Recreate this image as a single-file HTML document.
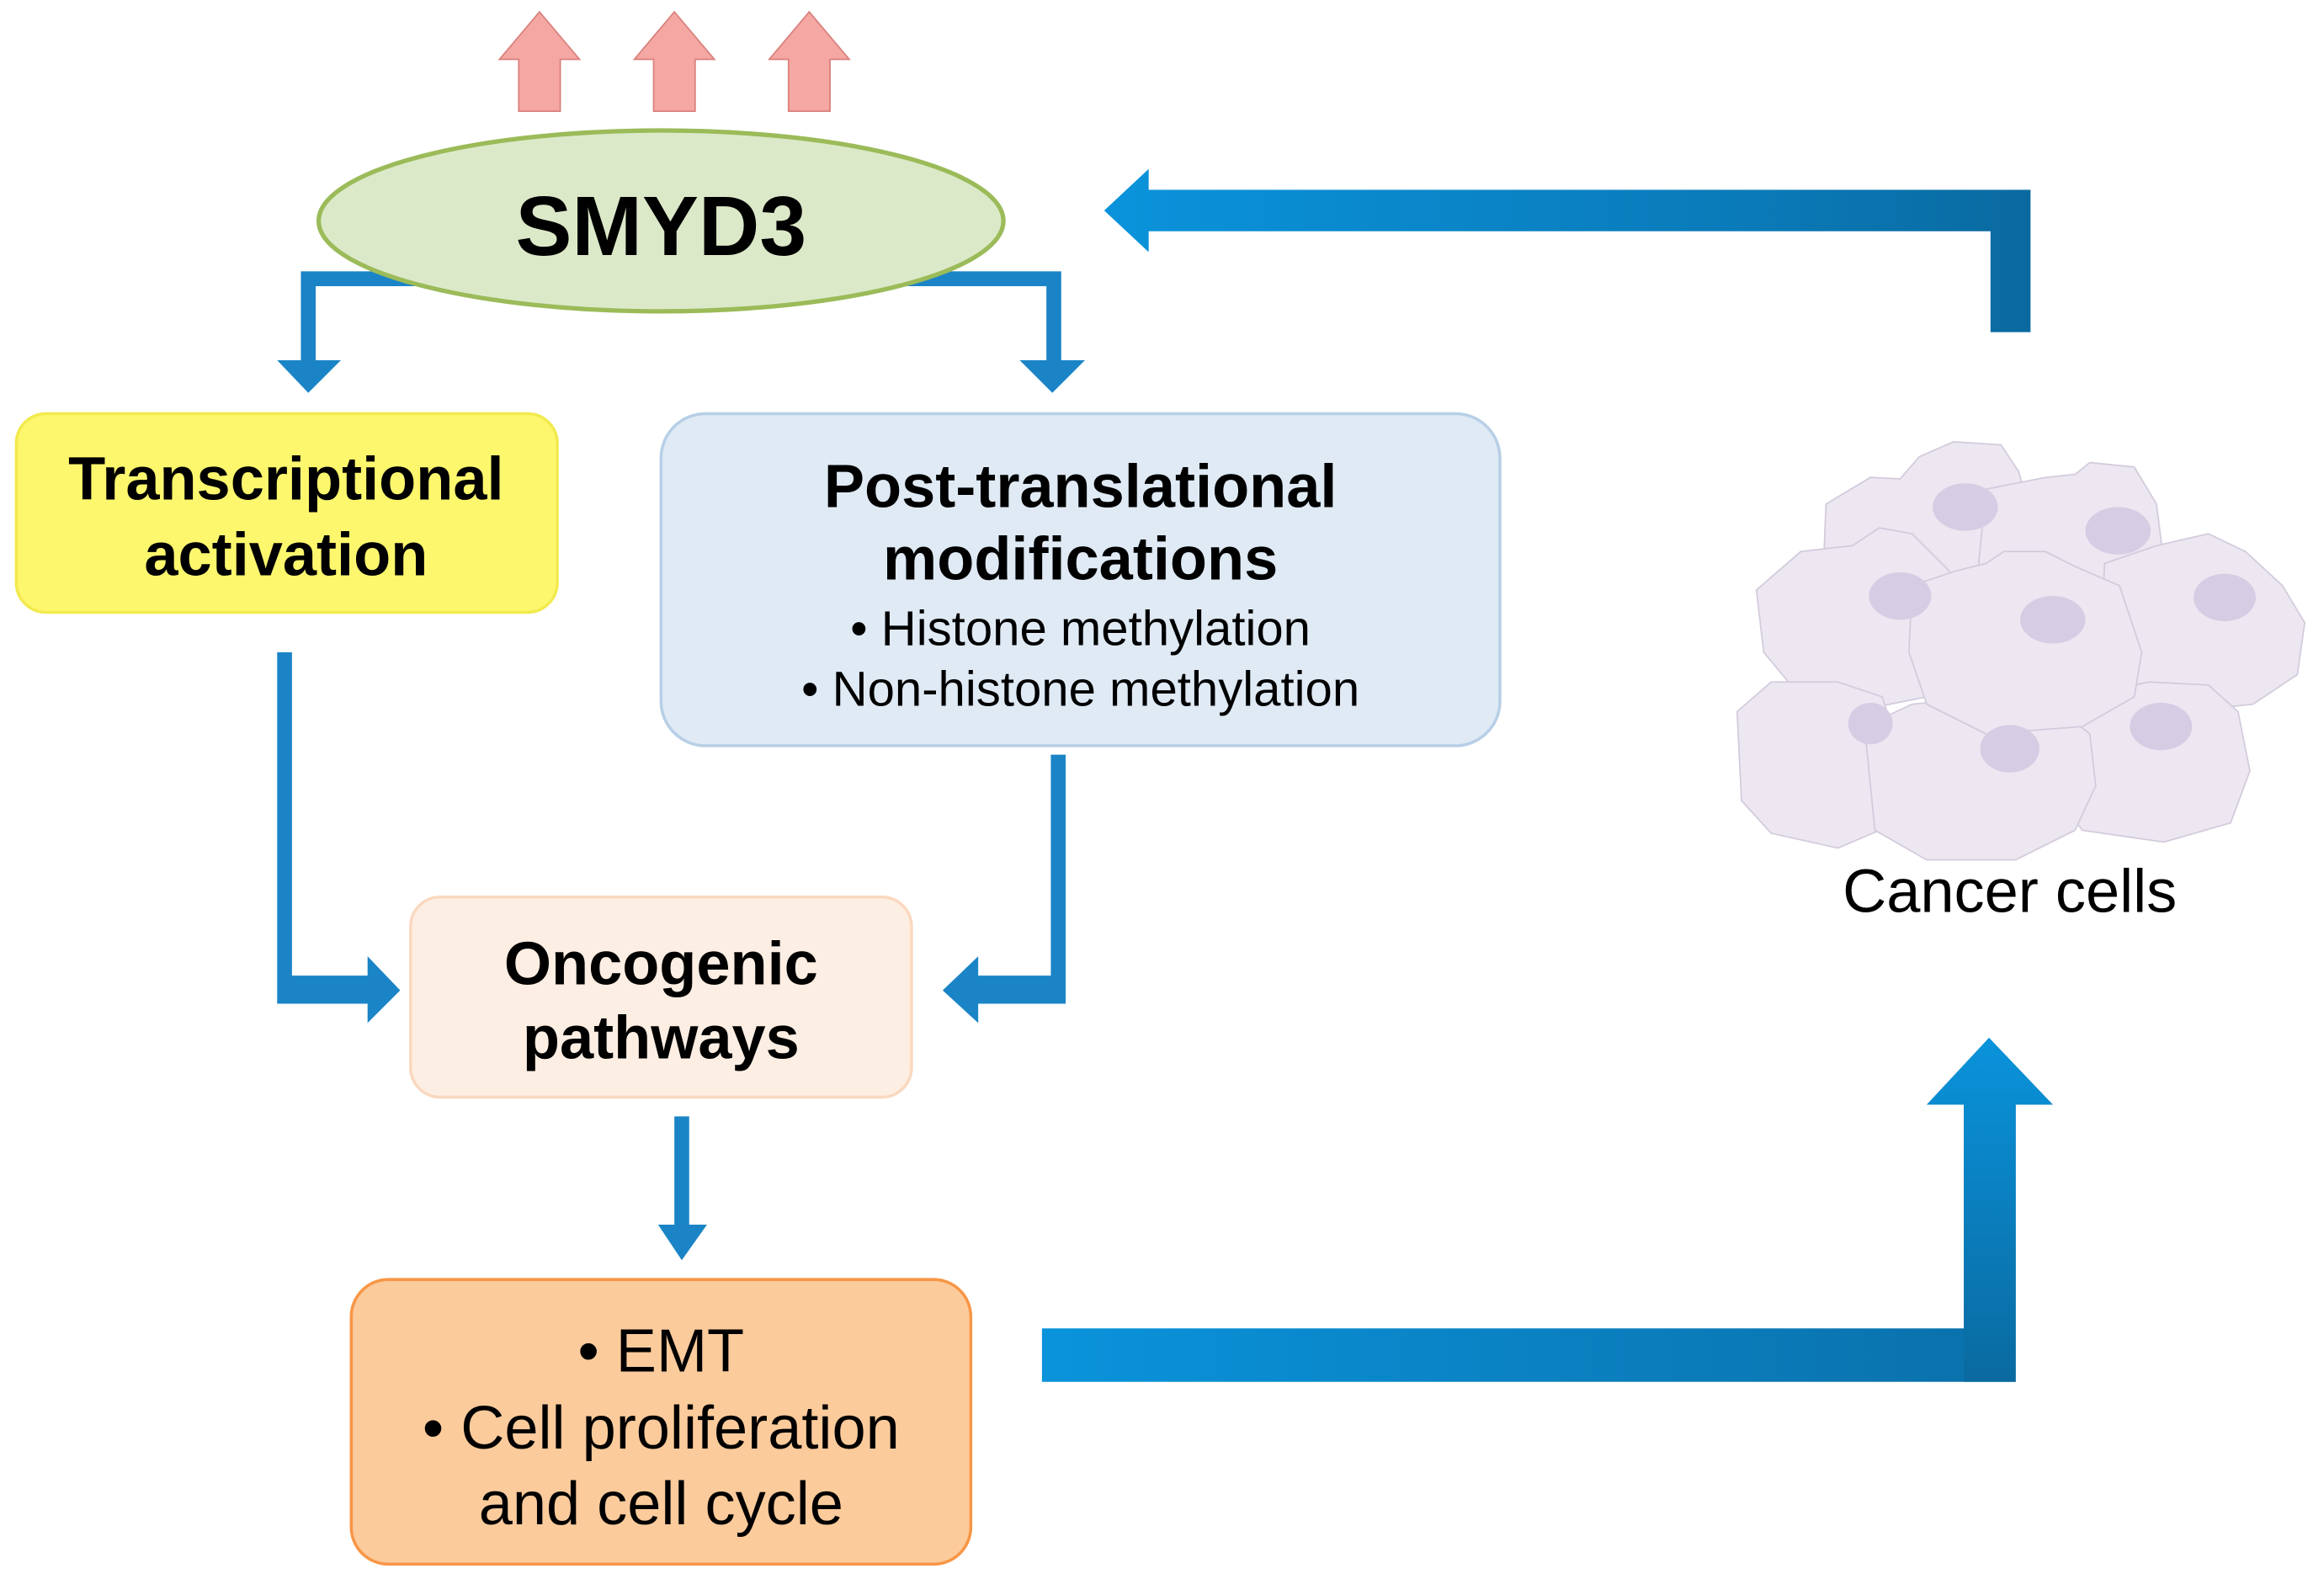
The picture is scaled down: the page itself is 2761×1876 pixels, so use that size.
<!DOCTYPE html>
<html><head><meta charset="utf-8"><style>
html,body{margin:0;padding:0;background:#fff}
svg{display:block}
text{font-family:"Liberation Sans",Arial,sans-serif}
</style></head><body>
<svg width="2761" height="1876" viewBox="0 0 1568 1065" preserveAspectRatio="none" xmlns="http://www.w3.org/2000/svg">
<defs>
<linearGradient id="gh" x1="0" y1="0" x2="1" y2="0"><stop offset="0" stop-color="#0a93db"/><stop offset="1" stop-color="#0a6fa8"/></linearGradient>
<linearGradient id="gh2" x1="0" y1="0" x2="1" y2="0"><stop offset="0" stop-color="#0a93db"/><stop offset="0.7" stop-color="#0a7ab8"/><stop offset="1" stop-color="#0a6aa0"/></linearGradient>
<linearGradient id="gv" x1="0" y1="1" x2="0" y2="0"><stop offset="0" stop-color="#0a6aa0"/><stop offset="1" stop-color="#0a93db"/></linearGradient>
</defs>
<rect width="1568" height="1065" fill="#fff"/>

<g fill="#f4a7a3" stroke="#d9807c" stroke-width="1">
<polygon points="350,75 350,40 337,40 364,8 391,40 378,40 378,75"/>
<polygon points="441,75 441,40 428,40 455,8 482,40 469,40 469,75"/>
<polygon points="532,75 532,40 519,40 546,8 573,40 560,40 560,75"/>
</g>

<g fill="#1a84c6">
<polygon points="203,183 300,183 300,193 213,193 213,243 230,243 208,265 187,243 203,243"/>
<polygon points="590,183 716,183 716,243 732,243 710,265 688,243 706,243 706,193 590,193"/>
</g>
<ellipse cx="446" cy="149" rx="231" ry="61" fill="#dce9c9" stroke="#9bbb59" stroke-width="3"/>
<text x="446" y="172" font-size="57" font-weight="bold" text-anchor="middle" fill="#000">SMYD3</text>

<polygon points="1370,128 1370,224 1343,224 1343,156 775,156 775,170 745,142 775,114 775,128" fill="url(#gh2)"/>

<rect x="11" y="279" width="365" height="134" rx="20" fill="#fdf76e" stroke="#f2ea4e" stroke-width="2"/>
<text x="193" y="337" font-size="41" font-weight="bold" text-anchor="middle">Transcriptional</text>
<text x="193" y="388" font-size="41" font-weight="bold" text-anchor="middle">activation</text>

<rect x="446" y="279" width="566" height="224" rx="30" fill="#dfeaf5" stroke="#b7cfe6" stroke-width="2"/>
<text x="729" y="342" font-size="41" font-weight="bold" text-anchor="middle">Post-translational</text>
<text x="729" y="391" font-size="41" font-weight="bold" text-anchor="middle">modifications</text>
<text x="729" y="435" font-size="33" text-anchor="middle">• Histone methylation</text>
<text x="729" y="476" font-size="33" text-anchor="middle">• Non-histone methylation</text>

<rect x="277" y="605" width="338" height="135" rx="20" fill="#fdeee3" stroke="#fad8bf" stroke-width="2"/>
<text x="446" y="664" font-size="41" font-weight="bold" text-anchor="middle">Oncogenic</text>
<text x="446" y="714" font-size="41" font-weight="bold" text-anchor="middle">pathways</text>

<rect x="237" y="863" width="418" height="192" rx="25" fill="#fccb9c" stroke="#f79646" stroke-width="2"/>
<text x="446" y="925" font-size="41" text-anchor="middle">• EMT</text>
<text x="446" y="977" font-size="41" text-anchor="middle">• Cell proliferation</text>
<text x="446" y="1028" font-size="41" text-anchor="middle">and cell cycle</text>

<g fill="#1a84c6">
<polygon points="187,440 197,440 197,658 248,658 248,645 270,668 248,690 248,677 187,677"/>
<polygon points="709,509 719,509 719,677 660,677 660,690 636,668 660,645 660,658 709,658"/>
<polygon points="455,753 465,753 465,826 477,826 460,850 444,826 455,826"/>
</g>

<polygon points="703,896 1325,896 1325,745 1300,745 1342,700 1385,745 1360,745 1360,932 703,932" fill="url(#gh)"/>
<polygon points="1325,745 1300,745 1342,700 1385,745 1360,745 1360,932 1325,932" fill="url(#gv)"/>

<g fill="#ece7f1" stroke="#d3cbdc" stroke-width="1">
<path d="M1232,340 L1262,322 L1282,323 L1295,308 L1318,298 L1350,300 L1362,318 L1368,340 L1360,380 L1330,420 L1240,425 L1230,390 Z"/>
<path d="M1340,330 L1380,322 L1400,320 L1410,312 L1440,315 L1455,340 L1460,380 L1445,420 L1400,455 L1345,440 L1335,380 Z"/>
<path d="M1420,380 L1455,368 L1490,360 L1515,372 L1540,395 L1555,420 L1550,455 L1520,475 L1470,480 L1430,465 L1418,420 Z"/>
<path d="M1185,398 L1215,372 L1250,368 L1268,356 L1290,360 L1315,385 L1318,430 L1300,470 L1260,478 L1215,470 L1190,440 Z"/>
<path d="M1172,480 L1195,460 L1240,460 L1270,470 L1285,520 L1280,555 L1240,572 L1195,562 L1175,540 Z"/>
<path d="M1380,480 L1410,468 L1450,460 L1490,462 L1510,480 L1518,520 L1505,555 L1460,568 L1405,560 L1382,530 Z"/>
<path d="M1258,490 L1290,475 L1340,470 L1385,475 L1410,495 L1414,530 L1400,560 L1360,580 L1300,580 L1265,560 Z"/>
<path d="M1290,395 L1320,385 L1340,380 L1352,372 L1380,372 L1400,382 L1430,395 L1445,440 L1440,470 L1405,490 L1340,495 L1300,475 L1288,440 Z"/>
</g>
<g fill="#d6cce3">
<ellipse cx="1326" cy="342" rx="22" ry="16"/>
<ellipse cx="1429" cy="358" rx="22" ry="16"/>
<ellipse cx="1282" cy="402" rx="21" ry="16"/>
<ellipse cx="1385" cy="418" rx="22" ry="16"/>
<ellipse cx="1501" cy="403" rx="21" ry="16"/>
<ellipse cx="1262" cy="488" rx="15" ry="14"/>
<ellipse cx="1356" cy="505" rx="20" ry="16"/>
<ellipse cx="1458" cy="490" rx="21" ry="16"/>
</g>
<text x="1356" y="615" font-size="41" text-anchor="middle">Cancer cells</text>
</svg>
</body></html>
